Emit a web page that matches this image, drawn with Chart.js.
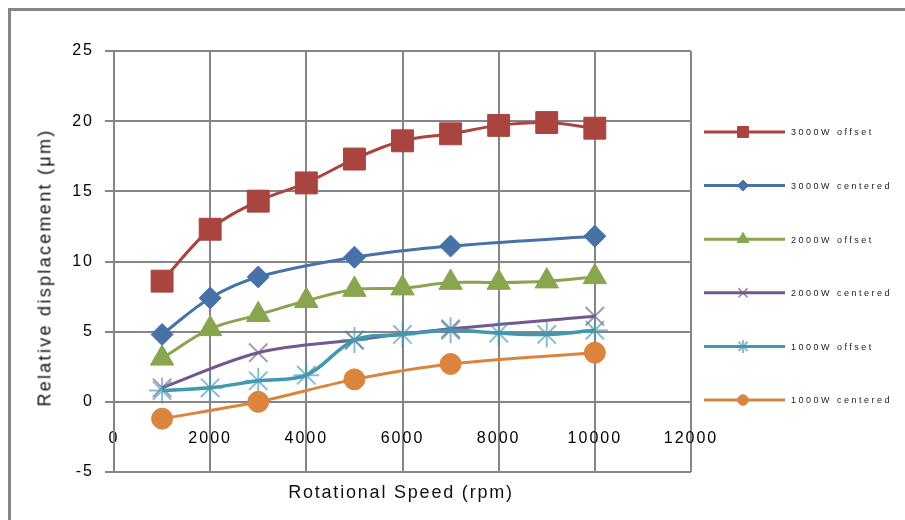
<!DOCTYPE html>
<html>
<head>
<meta charset="utf-8">
<script src="https://cdn.jsdelivr.net/npm/chart.js@4/dist/chart.umd.min.js"></script>
<style>
    body { margin: 0; background: #fff; }
    #wrap { position: relative; width: 905px; height: 520px; overflow: hidden; font-family: "Liberation Sans", Arial, sans-serif; }
    #frame { position: absolute; left: 8px; top: 8px; width: 920px; height: 540px; border-left: 3px solid #868686; border-top: 3px solid #868686; }
    #xTitle { position: absolute; left: 0; top: 482px; width: 802px; text-align: center; font-size: 18px; letter-spacing: 1.8px; color: #111; }
    #yTitle { position: absolute; left: 45px; top: 268px; width: 400px; margin-left: -200px; margin-top: -11px; text-align: center;
              font-size: 18px; letter-spacing: 2.3px; color: #111; transform: rotate(-90deg); white-space: nowrap; }
    canvas { position: absolute; left: 0; top: 0; }
</style>
</head>
<body>
<div id="wrap">
    <div id="frame"></div>
    <canvas id="lineChart" width="905" height="520"></canvas>
    <div id="xTitle">Rotational Speed (rpm)</div>
    <div id="yTitle">Relative displacement (μm)</div>
</div>
<script>
// values
const seriesNames = ["3000W offset", "3000W centered", "2000W offset", "2000W centered", "1000W offset", "1000W centered"];
const colors = ["#A9443F", "#4672A8", "#89A54E", "#71588F", "#4198AF", "#DB843D"];
const pointStyles = ["rect", "rectRot", "triangle", "crossRot", "star", "circle"];
const pointSizes = [15.5, 11, 13.5, 13, 13, 10.5];

const speeds1 = [1000, 2000, 3000, 4000, 5000, 6000, 7000, 8000, 9000, 10000];
const vals1 = [8.6, 12.3, 14.3, 15.6, 17.3, 18.6, 19.1, 19.7, 19.9, 19.5];

const speeds2 = [1000, 2000, 3000, 5000, 7000, 10000];
const vals2 = [4.8, 7.4, 8.9, 10.3, 11.1, 11.8];

const speeds3 = [1000, 2000, 3000, 4000, 5000, 6000, 7000, 8000, 9000, 10000];
const vals3 = [3.1, 5.2, 6.2, 7.2, 8.0, 8.1, 8.5, 8.5, 8.6, 8.9];

const speeds4 = [1000, 3000, 5000, 7000, 10000];
const vals4 = [1.0, 3.5, 4.4, 5.2, 6.1];

const speeds5 = [1000, 2000, 3000, 4000, 5000, 6000, 7000, 8000, 9000, 10000];
const vals5 = [0.8, 1.0, 1.5, 1.9, 4.4, 4.8, 5.1, 4.9, 4.8, 5.1];

const speeds6 = [1000, 3000, 5000, 7000, 10000];
const vals6 = [-1.2, 0.0, 1.6, 2.7, 3.5];

const xTicks = [0, 2000, 4000, 6000, 8000, 10000, 12000];
const yTicks = [-5, 0, 5, 10, 15, 20, 25];

const allSpeeds = [speeds1, speeds2, speeds3, speeds4, speeds5, speeds6];
const allVals = [vals1, vals2, vals3, vals4, vals5, vals6];

const datasets = seriesNames.map((name, i) => {
    const light = pointStyles[i] === "crossRot" || pointStyles[i] === "star";
    return {
        label: name,
        data: allSpeeds[i].map((s, k) => ({x: s, y: allVals[i][k]})),
        borderColor: colors[i],
        backgroundColor: colors[i],
        borderWidth: i === 4 ? 3.5 : 3,
        tension: 0.35,
        pointStyle: pointStyles[i],
        pointRadius: pointSizes[i],
        pointBorderWidth: light ? 2 : 1,
        pointBorderColor: light ? colors[i] + "A0" : colors[i],
        pointBackgroundColor: colors[i],
        order: seriesNames.length - i
    };
});

// wider spaced tick text, like the blurry original
const spacing = {
    id: "spacing",
    beforeDraw(chart) { chart.ctx.letterSpacing = "2px"; }
};

// legend on the right: line + marker + label
const sideLegend = {
    id: "sideLegend",
    afterDraw(chart) {
        const ctx = chart.ctx;
        const top = 132, step = 53.6;
        ctx.save();
        datasets.forEach((ds, i) => {
            const y = top + i * step;
            ctx.strokeStyle = ds.borderColor;
            ctx.lineWidth = 3;
            ctx.beginPath();
            ctx.moveTo(704, y);
            ctx.lineTo(785, y);
            ctx.stroke();
            if (Chart.helpers && Chart.helpers.drawPoint) {
                ctx.fillStyle = ds.backgroundColor;
                ctx.strokeStyle = ds.pointBorderColor;
                ctx.lineWidth = ds.pointBorderWidth;
                Chart.helpers.drawPoint(ctx, {pointStyle: ds.pointStyle, radius: ds.pointRadius * 0.5, rotation: 0, borderWidth: ds.pointBorderWidth}, 743, y);
            }
            ctx.fillStyle = "#222";
            ctx.font = "9px 'Liberation Sans', Arial";
            ctx.letterSpacing = "2.5px";
            ctx.textBaseline = "middle";
            ctx.fillText(ds.label, 791, y + 1);
        });
        ctx.restore();
    }
};

new Chart(document.getElementById("lineChart").getContext("2d"), {
    type: "line",
    data: {datasets: datasets},
    plugins: [spacing, sideLegend],
    options: {
        responsive: false,
        animation: false,
        layout: {padding: {left: 30, top: 51, right: 214, bottom: 48}},
        plugins: {legend: {display: false}, tooltip: {enabled: false}},
        scales: {
            x: {
                type: "linear",
                position: {y: 0},
                min: 0,
                max: 12000,
                afterBuildTicks: scale => { scale.ticks = xTicks.map(v => ({value: v})); },
                afterFit: scale => { scale.height = 0; },
                grid: {color: "#868686", lineWidth: 2, drawTicks: false},
                border: {display: false},
                ticks: {color: "#000", font: {size: 16, family: "'Liberation Sans', Arial"}, padding: 27, maxRotation: 0, callback: v => v}
            },
            y: {
                min: -5,
                max: 25,
                afterBuildTicks: scale => { scale.ticks = yTicks.map(v => ({value: v})); },
                afterFit: scale => { scale.width = 84; },
                grid: {color: "#868686", lineWidth: 2, tickLength: 9},
                border: {color: "#868686", width: 2},
                ticks: {color: "#000", font: {size: 16, family: "'Liberation Sans', Arial"}, padding: 11}
            }
        }
    }
});
</script>
</body>
</html>
